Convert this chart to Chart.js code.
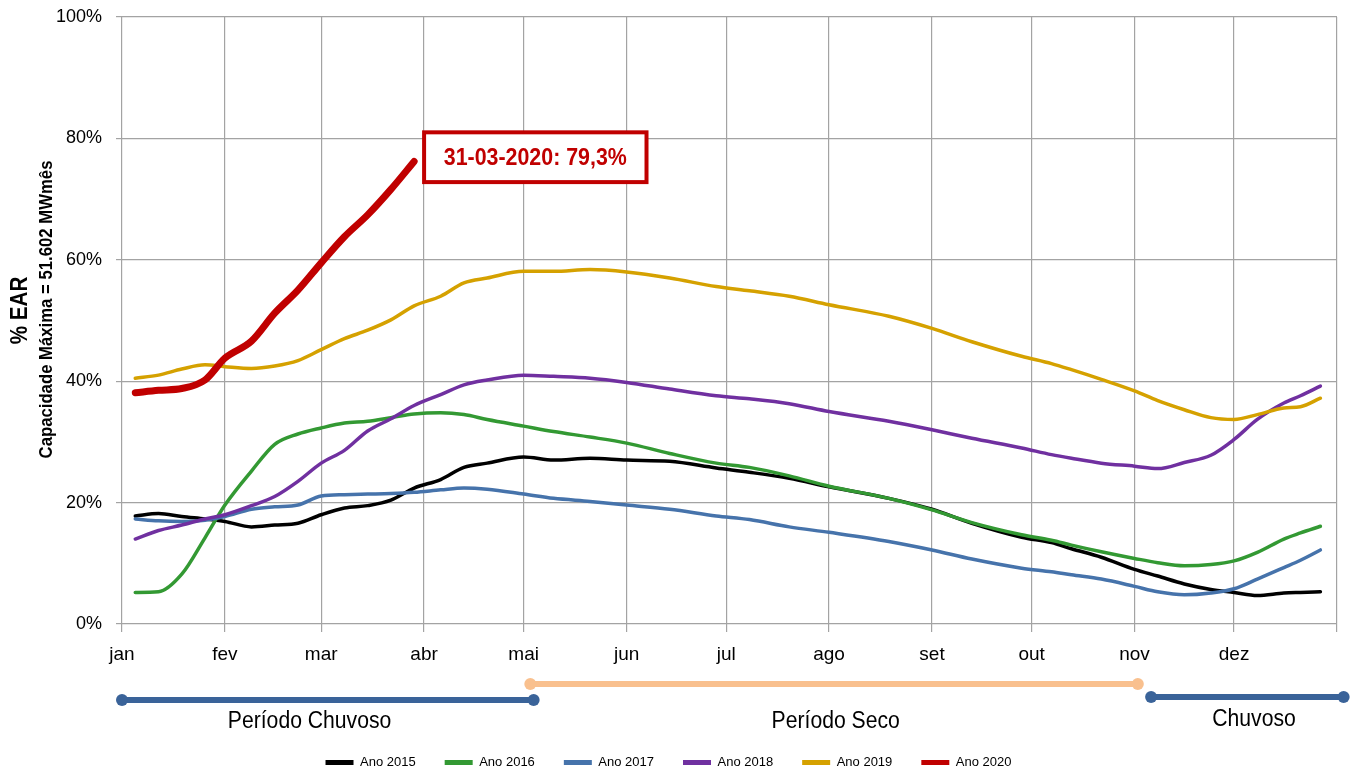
<!DOCTYPE html>
<html lang="pt">
<head>
<meta charset="utf-8">
<title>% EAR</title>
<script src="https://cdn.jsdelivr.net/npm/chart.js@4.4.1/dist/chart.umd.min.js"></script>
<style>
    html, body { margin: 0; padding: 0; background: #fff; overflow: hidden; }
    #wrap { width: 1356px; height: 775px; position: relative; overflow: hidden; }
</style>
</head>
<body>
<div id="wrap"><canvas id="earChart" width="1356" height="779"></canvas></div>
<script>
// --- data (day of year, leap year) ---
const monthStarts = [0, 31, 60, 91, 121, 152, 182, 213, 244, 274, 305, 335, 366];
const monthLabels = ['jan', 'fev', 'mar', 'abr', 'mai', 'jun', 'jul', 'ago', 'set', 'out', 'nov', 'dez', ''];
const yTicks = [0, 20, 40, 60, 80, 100];

const days = [4, 11, 18, 25, 31, 39, 46, 53, 60, 67, 74, 81, 88, 96, 103, 110, 121, 130, 141, 152,
    165, 179, 189, 201, 213, 231, 244, 256, 271, 280, 286, 295, 305, 312, 320, 328, 335, 342, 350, 355, 361];

const ano2015 = [17.8, 18.2, 17.7, 17.3, 16.9, 16.0, 16.3, 16.6, 18.0, 19.1, 19.5, 20.4, 22.4, 23.8, 25.8, 26.5, 27.5, 27.0, 27.3, 27.0,
    26.8, 25.7, 25.0, 24.0, 22.6, 20.7, 18.9, 16.6, 14.3, 13.4, 12.4, 11.0, 9.0, 7.9, 6.6, 5.7, 5.2, 4.7, 5.1, 5.2, 5.3];
const ano2016 = [5.2, 5.3, 8.2, 14.2, 19.6, 25.2, 29.6, 31.3, 32.3, 33.1, 33.4, 34.0, 34.6, 34.8, 34.5, 33.7, 32.6, 31.7, 30.8, 29.8,
    28.1, 26.5, 25.8, 24.4, 22.7, 20.7, 18.8, 16.7, 14.7, 13.8, 13.0, 11.9, 10.8, 10.1, 9.6, 9.8, 10.4, 11.8, 14.0, 15.0, 16.1];
const ano2017 = [17.3, 17.0, 16.9, 17.1, 17.7, 18.9, 19.3, 19.6, 21.1, 21.3, 21.4, 21.5, 21.7, 22.1, 22.4, 22.2, 21.4, 20.7, 20.2, 19.6,
    18.9, 17.8, 17.2, 16.0, 15.1, 13.6, 12.2, 10.7, 9.2, 8.6, 8.1, 7.4, 6.2, 5.3, 4.8, 5.1, 5.8, 7.4, 9.3, 10.5, 12.2];
const ano2018 = [14.0, 15.4, 16.3, 17.3, 18.0, 19.5, 21.0, 23.5, 26.5, 28.6, 31.8, 33.8, 36.0, 37.8, 39.4, 40.2, 41.0, 40.8, 40.5, 39.8,
    38.7, 37.6, 37.1, 36.3, 35.0, 33.4, 32.0, 30.6, 29.0, 27.9, 27.3, 26.5, 26.0, 25.6, 26.6, 27.8, 30.4, 33.7, 36.4, 37.6, 39.2];
const ano2019 = [40.5, 41.0, 42.0, 42.7, 42.4, 42.1, 42.5, 43.4, 45.2, 47.0, 48.4, 50.1, 52.4, 54.0, 56.2, 57.0, 58.1, 58.1, 58.4, 58.0,
    57.0, 55.6, 54.9, 54.0, 52.6, 50.7, 48.7, 46.5, 44.1, 42.9, 41.9, 40.3, 38.4, 36.8, 35.3, 34.0, 33.7, 34.5, 35.6, 35.8, 37.2];
const ano2020 = [38.1, 38.5, 38.8, 40.2, 43.8, 46.6, 51.2, 55.0, 59.5, 63.8, 67.4, 71.6, 76.2];

const FONT = "'Liberation Sans', Arial, sans-serif";
const GRID = '#a3a3a3';

function pts(vals) {
    return vals.map((v, i) => ({ x: days[i], y: v }));
}

function line(label, vals, color, width) {
    return {
        label: label,
        data: pts(vals),
        borderColor: color,
        backgroundColor: color,
        borderWidth: width,
        pointRadius: 0,
        pointHoverRadius: 0,
        cubicInterpolationMode: 'monotone',
        borderCapStyle: 'round',
        borderJoinStyle: 'round',
        fill: false
    };
}

// later years drawn on top (dataset 0 is painted last)
const datasets = [
    line('Ano 2020', ano2020, '#c00000', 7),
    line('Ano 2019', ano2019, '#d5a100', 3.5),
    line('Ano 2018', ano2018, '#7030a0', 3.5),
    line('Ano 2017', ano2017, '#4673ab', 3.5),
    line('Ano 2016', ano2016, '#339933', 3.5),
    line('Ano 2015', ano2015, '#000000', 3.5)
];

// narrow-looking text: squeeze horizontally
function narrowText(ctx, text, x, y, sx) {
    ctx.save();
    ctx.translate(x, y);
    ctx.scale(sx, 1);
    ctx.fillText(text, 0, 0);
    ctx.restore();
}

// --- extras: y titles, last value box, period bars ---
const extrasPlugin = {
    id: 'extras',
    afterDraw(chart) {
        const ctx = chart.ctx;
        const x = chart.scales.x;
        const y = chart.scales.y;
        const area = chart.chartArea;
        ctx.save();

        // axis titles
        const midY = (area.top + area.bottom) / 2 - 10;
        ctx.fillStyle = '#000';
        ctx.textAlign = 'center';
        ctx.textBaseline = 'middle';
        ctx.save();
        ctx.translate(20, midY);
        ctx.rotate(-Math.PI / 2);
        ctx.font = 'bold 24px ' + FONT;
        narrowText(ctx, '% EAR', 0, 0, 0.86);
        ctx.font = 'bold 19px ' + FONT;
        narrowText(ctx, 'Capacidade Máxima = 51.602 MWmês', 1, 27, 0.88);
        ctx.restore();

        // label box for the last 2020 reading
        const bx0 = x.getPixelForValue(91), bx1 = x.getPixelForValue(158);
        const by0 = y.getPixelForValue(81), by1 = y.getPixelForValue(72.8);
        ctx.fillStyle = '#fff';
        ctx.fillRect(bx0, by0, bx1 - bx0, by1 - by0);
        ctx.strokeStyle = '#c00000';
        ctx.lineWidth = 4;
        ctx.strokeRect(bx0, by0, bx1 - bx0, by1 - by0);
        ctx.fillStyle = '#c00000';
        ctx.font = 'bold 23px ' + FONT;
        narrowText(ctx, '31-03-2020: 79,3%', (bx0 + bx1) / 2, (by0 + by1) / 2 + 1, 0.93);

        // rainy / dry periods under the axis
        function period(d0, d1, dy, color) {
            const p0 = x.getPixelForValue(d0), p1 = x.getPixelForValue(d1);
            const py = area.bottom + dy;
            ctx.strokeStyle = color;
            ctx.lineWidth = 6;
            ctx.lineCap = 'butt';
            ctx.beginPath();
            ctx.moveTo(p0, py);
            ctx.lineTo(p1, py);
            ctx.stroke();
            ctx.fillStyle = color;
            [p0, p1].forEach(p => {
                ctx.beginPath();
                ctx.arc(p, py, 6, 0, Math.PI * 2);
                ctx.fill();
            });
        }
        period(123, 306, 60, '#f9c08e');
        period(0, 124, 76, '#3a6399');
        period(310, 368, 73, '#3a6399');

        ctx.fillStyle = '#000';
        ctx.font = '23px ' + FONT;
        narrowText(ctx, 'Período Chuvoso', x.getPixelForValue(56.5), area.bottom + 98, 0.92);
        narrowText(ctx, 'Período Seco', x.getPixelForValue(215), area.bottom + 98, 0.92);
        narrowText(ctx, 'Chuvoso', x.getPixelForValue(341), area.bottom + 96, 0.92);
        ctx.restore();
    }
};

new Chart(document.getElementById('earChart'), {
    type: 'line',
    data: { datasets: datasets },
    options: {
        responsive: false,
        animation: false,
        events: [],
        layout: { padding: { top: 17, right: 19, left: 0, bottom: 0 } },
        scales: {
            x: {
                type: 'linear',
                min: 0,
                max: 366,
                afterBuildTicks: s => { s.ticks = monthStarts.map(v => ({ value: v })); },
                afterFit: s => { s.height = s.chart.height - 624 - (s.chart.legend ? s.chart.legend.height : 0); },
                ticks: {
                    autoSkip: false,
                    maxRotation: 0,
                    padding: 11,
                    color: '#000',
                    font: { family: FONT, size: 19 },
                    callback: v => monthLabels[monthStarts.indexOf(v)] ?? ''
                },
                grid: { color: GRID, lineWidth: 1.2, tickLength: 8 },
                border: { display: false }
            },
            y: {
                min: 0,
                max: 100,
                afterBuildTicks: s => { s.ticks = yTicks.map(v => ({ value: v })); },
                afterFit: s => {
                    s.width = 122;
                    s.paddingTop = 10;
                    s.paddingBottom = 10;
                },
                ticks: {
                    padding: 14,
                    color: '#000',
                    font: { family: FONT, size: 18 },
                    callback: v => v + '%'
                },
                grid: { color: GRID, lineWidth: 1.2, tickLength: 6 },
                border: { display: false }
            }
        },
        plugins: {
            tooltip: { enabled: false },
            legend: {
                position: 'bottom',
                reverse: true,
                labels: {
                    color: '#000',
                    font: { family: FONT, size: 13 },
                    boxWidth: 28,
                    boxHeight: 5,
                    padding: 29,
                    generateLabels: chart => Chart.defaults.plugins.legend.labels.generateLabels(chart).map(item => {
                        item.lineWidth = 0;
                        item.strokeStyle = item.fillStyle;
                        return item;
                    })
                }
            }
        }
    },
    plugins: [extrasPlugin]
});
</script>
</body>
</html>
